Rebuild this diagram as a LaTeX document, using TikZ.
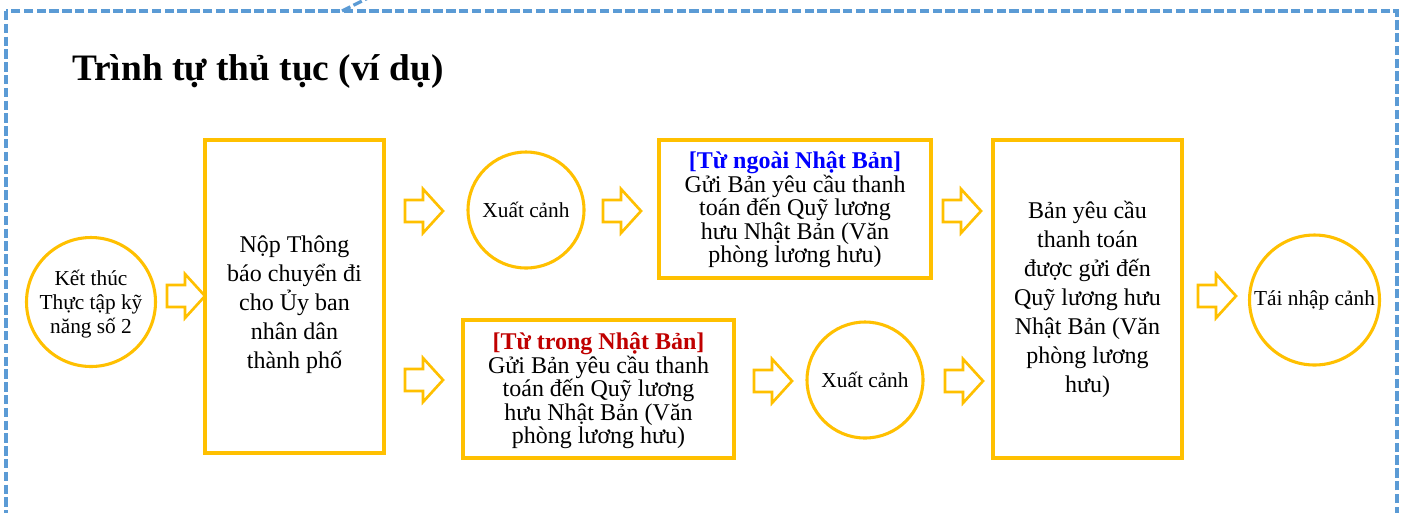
\documentclass[tikz,border=0pt]{standalone}
\usepackage{fontspec}
\setmainfont{Liberation Serif}
\definecolor{gold}{HTML}{FFC000}
\definecolor{dashblue}{HTML}{5B9BD5}
\definecolor{darkred}{HTML}{C00000}
\begin{document}
\begin{tikzpicture}[x=0.75pt,y=-0.75pt,
  shapeline/.style={draw=gold, line width=2.3pt},
  boxnode/.style={shapeline, rectangle, inner sep=0pt, align=center},
  circnode/.style={shapeline, circle, inner sep=0pt, align=center},
  txt/.style={align=center, inner sep=0pt, text=black},
  bigfont/.style={font=\fontsize{18}{21.75}\selectfont},
  midfont/.style={font=\fontsize{18}{17.6}\selectfont},
  smallfont/.style={font=\fontsize{16}{18}\selectfont},
  borderline/.style={dashblue, line width=2.4pt, dash pattern=on 7pt off 2.6pt},
  blockarrow/.pic={\draw[draw=gold, line width=2pt, line join=miter]
     (0,-11) -- (18,-11) -- (18,-22) -- (38,0) -- (18,22) -- (18,11) -- (0,11) -- cycle;}
]
\useasboundingbox (0,0) rectangle (1402,512);
\fill[white] (0,0) rectangle (1402,512);
\begin{scope}
\clip (0,0) rectangle (1402,512);
\draw[borderline] (6,11) rectangle (1397,560);
\draw[borderline] (342,11) -- (372,-4);
\end{scope}

\node[anchor=base west, inner sep=0pt, font=\fontsize{28}{34}\selectfont\bfseries] (title) at (72,80) {Trình tự thủ tục (ví dụ)};

\node[circnode, minimum size=96.75pt] (c1) at (91,302) {};
\node[txt, smallfont] (c1t) at (91,304) {Kết thúc\\Thực tập kỹ\\năng số 2};

\node[boxnode, minimum width=134.25pt, minimum height=234.75pt] (b1) at (294.5,296.5) {};
\node[txt, bigfont] (b1t) at (294.5,305) {Nộp Thông\\báo chuyển đi\\cho Ủy ban\\nhân dân\\thành phố};

\node[circnode, minimum size=87pt, smallfont] (x1) at (526,210) {Xuất cảnh};
\node[boxnode, minimum width=204pt, minimum height=103.5pt] (t1) at (795,209) {};
\node[txt, midfont] (t1t) at (795,210)
  {\textcolor{blue}{\bfseries [Từ ngoài Nhật Bản]}\\Gửi Bản yêu cầu thanh\\toán đến Quỹ lương\\hưu Nhật Bản (Văn\\phòng lương hưu)};

\node[boxnode, minimum width=203.25pt, minimum height=103.5pt] (t2) at (598.5,389) {};
\node[txt, midfont] (t2t) at (598.5,391)
  {\textcolor{darkred}{\bfseries [Từ trong Nhật Bản]}\\Gửi Bản yêu cầu thanh\\toán đến Quỹ lương\\hưu Nhật Bản (Văn\\phòng lương hưu)};
\node[circnode, minimum size=87pt, smallfont] (x2) at (865,380) {Xuất cảnh};

\node[boxnode, minimum width=141.75pt, minimum height=238.5pt, bigfont] (b2) at (1087.5,299)
  {Bản yêu cầu\\thanh toán\\được gửi đến\\Quỹ lương hưu\\Nhật Bản (Văn\\phòng lương\\hưu)};

\node[circnode, minimum size=97.5pt, smallfont] (c2) at (1314.5,300) {Tái nhập cảnh};

\pic at (167,296) {blockarrow};
\pic at (405,211) {blockarrow};
\pic at (603,211) {blockarrow};
\pic at (943,211) {blockarrow};
\pic at (405,380) {blockarrow};
\pic at (754,381) {blockarrow};
\pic at (945,381) {blockarrow};
\pic at (1198,296) {blockarrow};
\end{tikzpicture}
\end{document}
